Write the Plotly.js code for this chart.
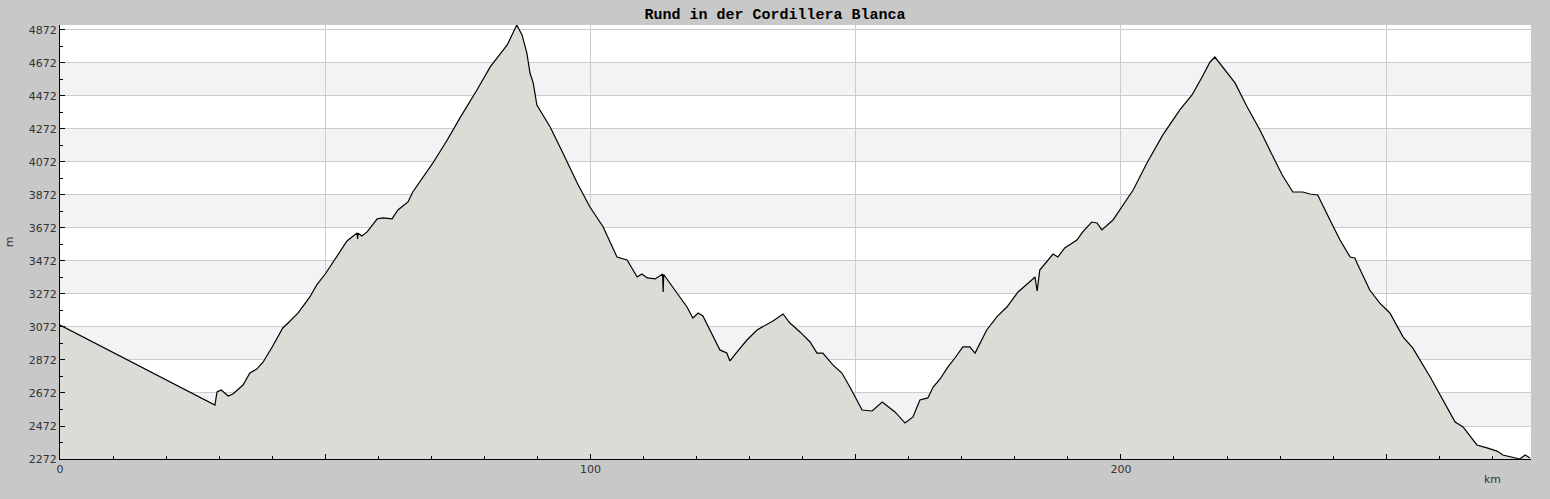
<!DOCTYPE html>
<html>
<head>
<meta charset="utf-8">
<script src="https://cdn.plot.ly/plotly-3.0.1.min.js"></script>
<style>
  html, body { margin: 0; padding: 0; background: #c8c8c8; }
  #profile { width: 1550px; height: 499px; }
</style>
</head>
<body>
<div id="profile"></div>
<script>
// distance along the route [km]
const distKm = [
  0, 29.2, 29.6, 30.4, 31.7, 32.6, 34.5, 35.8, 37.1, 38.3, 40.0, 42.0, 43.0, 44.9,
  47.1, 48.4, 50.0, 51.8, 54.1, 56.0, 56.1, 56.2, 56.9, 57.9, 59.8, 60.9, 62.6, 63.7,
  65.6, 66.5, 68.4, 70.3, 73.0, 75.4, 78.6, 81.1, 84.3, 85.4, 86.1, 87.1, 88.0, 88.6,
  89.2, 89.9, 92.4, 94.8, 97.5, 99.9, 102.4, 105.0, 106.9, 108.8, 109.7, 110.7, 112.2,
  113.6, 113.7, 113.8, 115.6, 118.2, 119.3, 120.3, 121.2, 123.1, 124.4, 125.7, 126.3,
  127.6, 129.5, 131.4, 132.5, 134.4, 136.3, 137.6, 139.5, 141.4, 142.7, 143.8, 145.7,
  147.4, 148.9, 151.2, 153.1, 155.0, 157.4, 159.3, 160.8, 162.1, 163.6, 164.6, 165.9,
  167.4, 168.7, 170.2, 171.5, 172.5, 174.7, 176.6, 178.5, 180.6, 183.4, 183.8, 184.2,
  184.7, 187.2, 188.1, 189.4, 191.7, 192.8, 194.5, 195.5, 196.4, 198.5, 199.8, 202.3,
  204.9, 207.9, 211.1, 213.4, 215.3, 216.8, 217.7, 219.2, 221.5, 223.8, 226.2, 228.7,
  230.4, 232.4, 234.3, 235.6, 237.1, 239.4, 241.3, 243.2, 244.1, 244.5, 246.9, 248.8,
  250.7, 253.2, 255.0, 258.3, 260.7, 263.0, 264.5, 267.1, 269.0, 270.9, 272.0, 273.9,
  275.2, 276.2, 277.1
];

// elevation [m]
const elevM = [
  3084, 2599, 2678, 2690, 2654, 2666, 2720, 2793, 2817, 2860, 2951, 3066, 3096, 3157,
  3254, 3327, 3393, 3478, 3593, 3642, 3605, 3640, 3623, 3648, 3727, 3733, 3727, 3781,
  3830, 3890, 3981, 4066, 4205, 4339, 4508, 4648, 4781, 4854, 4902, 4842, 4733, 4611,
  4551, 4417, 4284, 4127, 3945, 3799, 3678, 3496, 3478, 3375, 3393, 3369, 3363,
  3393, 3284, 3390, 3308, 3193, 3127, 3157, 3139, 3011, 2933, 2914, 2866,
  2920, 2993, 3054, 3072, 3108, 3151, 3096, 3042, 2981, 2914, 2914, 2842,
  2793, 2708, 2569, 2563, 2617, 2557, 2490, 2527, 2630, 2642, 2708, 2757,
  2830, 2884, 2951, 2951, 2914, 3054, 3133, 3193, 3284, 3363, 3375, 3290,
  3417, 3514, 3496, 3551, 3599, 3648, 3708, 3702, 3660, 3720, 3781, 3902,
  4066, 4236, 4387, 4478, 4587, 4678, 4708, 4648, 4551, 4405, 4266, 4102,
  3993, 3890, 3890, 3878, 3872, 3720, 3599, 3496, 3490, 3460, 3296, 3217,
  3157, 3011, 2945, 2769, 2630, 2496, 2466, 2357, 2339, 2320, 2296, 2284,
  2272, 2296, 2278
];

const yTicks = [2272, 2472, 2672, 2872, 3072, 3272, 3472, 3672, 3872, 4072, 4272, 4472, 4672, 4872];
const xTicks = [0, 50, 100, 150, 200, 250];
const xTickText = ['0', '', '100', '', '200', ''];

// alternating light bands between every other pair of grid lines
const bands = [];
for (let i = 1; i < yTicks.length - 1; i += 2) {
  bands.push({
    type: 'rect', xref: 'paper', yref: 'y', layer: 'below',
    x0: 0, x1: 1, y0: yTicks[i], y1: yTicks[i + 1],
    fillcolor: '#f3f2f5', line: {width: 0}
  });
}

const profile = {
  x: distKm,
  y: elevM,
  type: 'scatter',
  mode: 'lines',
  fill: 'tozeroy',
  fillcolor: '#dcdbd6',
  line: {color: '#000000', width: 1.2},
  hoverinfo: 'x+y'
};

const layout = {
  width: 1550,
  height: 499,
  paper_bgcolor: '#c8c8c8',
  plot_bgcolor: '#ffffff',
  margin: {l: 60, r: 19, t: 25, b: 40},
  showlegend: false,
  title: {
    text: '<b>Rund in der Cordillera Blanca</b>',
    font: {family: 'Liberation Mono, monospace', size: 15, color: '#000000'},
    x: 0.5, xref: 'container', xanchor: 'center',
    y: 0.972, yref: 'container', yanchor: 'middle'
  },
  font: {family: 'DejaVu Sans, sans-serif', size: 11, color: '#333333'},
  xaxis: {
    range: [0, 277.3],
    tickvals: xTicks,
    ticktext: xTickText,
    ticks: 'inside', ticklen: 5, tickcolor: '#000000',
    minor: {dtick: 10, ticks: 'inside', ticklen: 3, tickcolor: '#000000', showgrid: false},
    showgrid: true, gridcolor: '#cccccc', gridwidth: 1,
    showline: true, linecolor: '#000000', linewidth: 1,
    zeroline: false,
    tickfont: {size: 11, color: '#333333'}
  },
  yaxis: {
    range: [2272, 4902],
    tickvals: yTicks,
    ticks: 'inside', ticklen: 5, tickcolor: '#000000',
    minor: {dtick: 100, tick0: 2272, ticks: 'inside', ticklen: 3, tickcolor: '#000000', showgrid: false},
    showgrid: true, gridcolor: '#cccccc', gridwidth: 1,
    showline: true, linecolor: '#000000', linewidth: 1,
    zeroline: false,
    tickfont: {size: 11, color: '#333333'},
    title: {text: 'm', font: {size: 11, color: '#333333'}, standoff: 12}
  },
  shapes: bands,
  annotations: [{
    text: 'km', xref: 'paper', yref: 'paper', x: 0.974, y: -0.028,
    xanchor: 'center', yanchor: 'top', showarrow: false,
    font: {size: 11, color: '#333333'}
  }]
};

Plotly.newPlot('profile', [profile], layout, {displayModeBar: false, staticPlot: true});
</script>
</body>
</html>
